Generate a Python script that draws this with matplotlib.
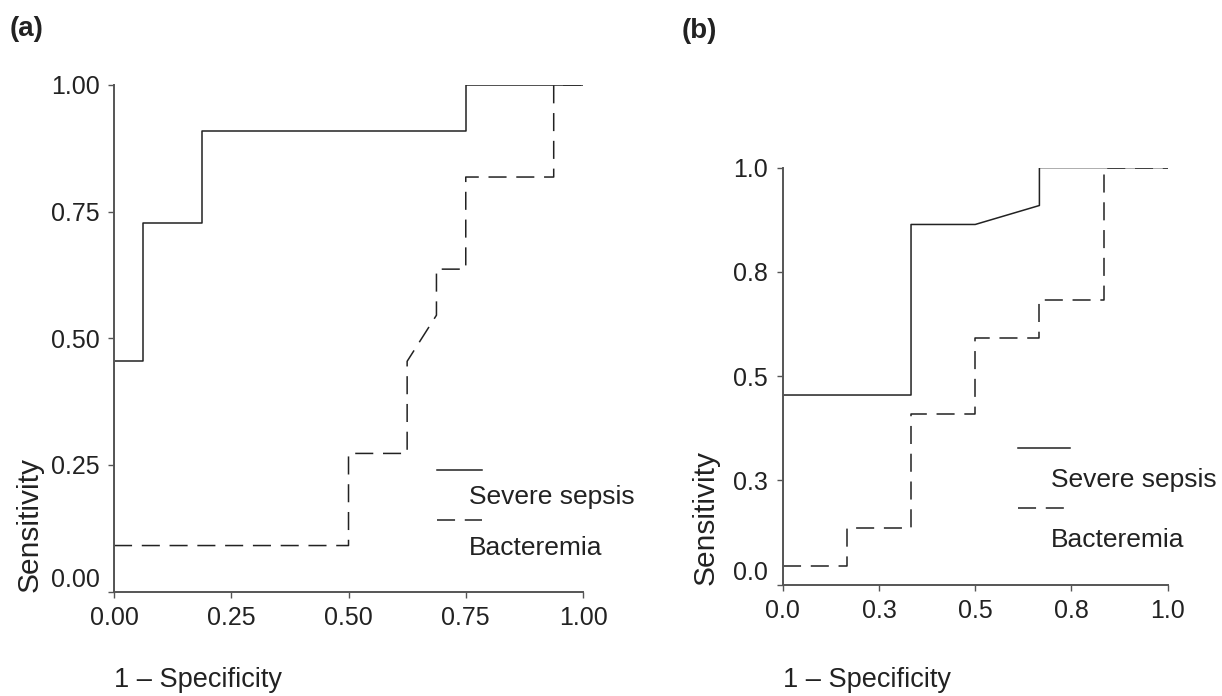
import matplotlib
matplotlib.use("Agg")
import matplotlib.pyplot as plt
from matplotlib.lines import Line2D

plt.rcParams['font.family'] = ['Liberation Sans', 'DejaVu Sans']
plt.rcParams['lines.scale_dashes'] = False

# panel (a) ROC points
a_sepsis_x = [0.0, 0.0, 0.0625, 0.0625, 0.1875, 0.1875, 0.75, 0.75, 1.0]
a_sepsis_y = [0.0, 0.4545, 0.4545, 0.7273, 0.7273, 0.9091, 0.9091, 1.0, 1.0]
a_bact_x = [0.0, 0.5, 0.5, 0.625, 0.625, 0.6875, 0.6875, 0.75, 0.75, 0.9375, 0.9375, 1.0]
a_bact_y = [0.0909, 0.0909, 0.2727, 0.2727, 0.4545, 0.5455, 0.6364, 0.6364, 0.8182, 0.8182, 1.0, 1.0]

# panel (b) ROC points
b_sepsis_x = [0.0, 0.0, 0.3333, 0.3333, 0.5, 0.6667, 0.6667, 1.0]
b_sepsis_y = [0.0, 0.4545, 0.4545, 0.8636, 0.8636, 0.9091, 1.0, 1.0]
b_bact_x = [0.0, 0.1667, 0.1667, 0.3333, 0.3333, 0.5, 0.5, 0.6667, 0.6667, 0.8333, 0.8333, 1.0]
b_bact_y = [0.0455, 0.0455, 0.1364, 0.1364, 0.4091, 0.4091, 0.5909, 0.5909, 0.6818, 0.6818, 1.0, 1.0]

ticks = [0.0, 0.25, 0.5, 0.75, 1.0]
a_labels = ['0.00', '0.25', '0.50', '0.75', '1.00']
b_labels = ['0.0', '0.3', '0.5', '0.8', '1.0']
series = ['Severe sepsis', 'Bacteremia']

line_col = '#222222'
axis_col = '#555555'
text_col = '#222222'
dash = (0, (13, 7))
fs_tick = 18
fs_leg = 19
fs_xlab = 19.5
fs_ylab = 21.5

fig = plt.figure(figsize=(12.22, 6.96), dpi=100)
ax_a = fig.add_axes([0.0933, 0.150, 0.3838, 0.728])
ax_b = fig.add_axes([0.6405, 0.1602, 0.3151, 0.599])


def style_axes(ax, labels, ylab_x, xlab_y):
    ax.set_xlim(0, 1)
    ax.set_ylim(0, 1)
    for s in ['top', 'right']:
        ax.spines[s].set_visible(False)
    for s in ['left', 'bottom']:
        ax.spines[s].set_color(axis_col)
        ax.spines[s].set_linewidth(1.4)
    ax.set_xticks(ticks)
    ax.set_yticks(ticks)
    ax.set_xticklabels(labels, fontsize=fs_tick, color=text_col)
    ax.set_yticklabels(labels, fontsize=fs_tick, color=text_col)
    ax.tick_params(length=4.5, width=1.0, color=axis_col, pad=6)
    ax.get_yticklabels()[0].set_verticalalignment('bottom')
    ax.set_ylabel('Sensitivity', fontsize=fs_ylab, loc='bottom', color=text_col)
    ax.yaxis.set_label_coords(ylab_x, 0)
    ax.set_xlabel('1 \u2013 Specificity', fontsize=fs_xlab, loc='left', color=text_col)
    ax.xaxis.set_label_coords(0, xlab_y)


def add_legend(ax, anchor, hlen, tpad, lspace):
    handles = [
        Line2D([], [], color=line_col, lw=1.1),
        Line2D([], [], color='none'),
        Line2D([], [], color=line_col, lw=1.1, linestyle=dash),
        Line2D([], [], color='none'),
    ]
    labels = ['', series[0], '', series[1]]
    ax.legend(handles, labels, loc='upper left', bbox_to_anchor=anchor,
              frameon=False, fontsize=fs_leg, handlelength=hlen,
              handletextpad=tpad, labelspacing=lspace, borderpad=0,
              borderaxespad=0, labelcolor=text_col)


ax_a.plot(a_sepsis_x, a_sepsis_y, color=line_col, lw=1.1)
ax_a.plot(a_bact_x, a_bact_y, color=line_col, lw=1.1, linestyle=dash)
style_axes(ax_a, a_labels, -0.151, -0.149)
add_legend(ax_a, (0.688, 0.260), 1.7, -0.49, 0.05)

ax_b.plot(b_sepsis_x, b_sepsis_y, color=line_col, lw=1.1)
ax_b.plot(b_bact_x, b_bact_y, color=line_col, lw=1.1, linestyle=dash)
style_axes(ax_b, b_labels, -0.163, -0.198)
add_legend(ax_b, (0.610, 0.351), 1.97, -0.72, 0.22)

fig.text(0.008, 0.958, '(a)', fontsize=20, fontweight='bold', va='center', color=text_col)
fig.text(0.558, 0.956, '(b)', fontsize=20, fontweight='bold', va='center', color=text_col)

fig.savefig('out.png', dpi=100)
